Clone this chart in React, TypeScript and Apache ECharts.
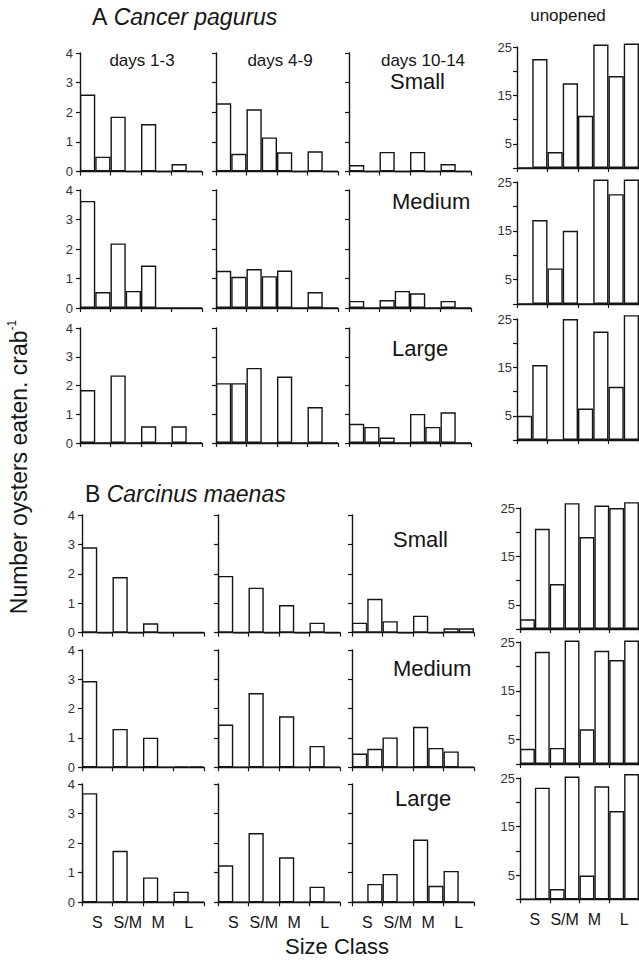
import React, { useEffect, useRef } from "react";
import * as echarts from "echarts";

// ---------- labels ----------
const sizeClasses = ["S", "S/M", "M", "L"];
const periodLabels = ["days 1-3", "days 4-9", "days 10-14", "unopened"];
const crabSizeLabels = ["Small", "Medium", "Large"];
const unopenedTickLabels = [5, 15, 25];

// ---------- data: each entry = [left bar, right bar] for S, S/M, M, L ----------
// A  Cancer pagurus
const cancerSmallDays1to3 = [[2.6, 0.5], [1.85, 0], [1.6, 0], [0.25, 0]];
const cancerSmallDays4to9 = [[2.3, 0.6], [2.1, 1.15], [0.65, 0], [0.68, 0]];
const cancerSmallDays10to14 = [[0.22, 0], [0.66, 0], [0.66, 0], [0.25, 0]];
const cancerSmallUnopened = [[0, 22.5], [3.3, 17.5], [10.8, 25.5], [19, 25.7]];

const cancerMediumDays1to3 = [[3.63, 0.54], [2.19, 0.58], [1.44, 0], [0, 0]];
const cancerMediumDays4to9 = [[1.26, 1.06], [1.32, 1.08], [1.27, 0], [0.54, 0]];
const cancerMediumDays10to14 = [[0.24, 0], [0.27, 0.58], [0.5, 0], [0.24, 0]];
const cancerMediumUnopened = [[0, 17.2], [7.3, 15], [0, 25.5], [22.5, 25.5]];

const cancerLargeDays1to3 = [[1.84, 0], [2.35, 0], [0.58, 0], [0.58, 0]];
const cancerLargeDays4to9 = [[2.08, 2.08], [2.61, 0], [2.31, 0], [1.25, 0]];
const cancerLargeDays10to14 = [[0.67, 0.56], [0.19, 0], [1.01, 0.56], [1.07, 0]];
const cancerLargeUnopened = [[5, 15.5], [0, 25], [6.5, 22.4], [11, 25.8]];

// B  Carcinus maenas
const carcinusSmallDays1to3 = [[2.9, 0], [1.89, 0], [0.32, 0], [0, 0]];
const carcinusSmallDays4to9 = [[1.93, 0], [1.53, 0], [0.94, 0], [0.34, 0]];
const carcinusSmallDays10to14 = [[0.34, 1.15], [0.39, 0], [0.58, 0], [0.15, 0.15]];
const carcinusSmallUnopened = [[2, 20.7], [9.3, 26], [19, 25.5], [25, 26.2]];

const carcinusMediumDays1to3 = [[2.94, 0], [1.31, 0], [1.01, 0], [0.03, 0.03]];
const carcinusMediumDays4to9 = [[1.46, 0], [2.53, 0], [1.74, 0], [0.73, 0]];
const carcinusMediumDays10to14 = [[0.47, 0.63], [1.02, 0], [1.38, 0.66], [0.54, 0]];
const carcinusMediumUnopened = [[3.1, 23], [3.3, 25.3], [7.1, 23.2], [21.3, 25.3]];

const carcinusLargeDays1to3 = [[3.69, 0], [1.74, 0], [0.84, 0], [0.36, 0]];
const carcinusLargeDays4to9 = [[1.25, 0], [2.34, 0], [1.52, 0], [0.53, 0]];
const carcinusLargeDays10to14 = [[0, 0.62], [0.96, 0], [2.12, 0.56], [1.06, 0]];
const carcinusLargeUnopened = [[0, 23], [2.1, 25.3], [4.9, 23.3], [18.2, 25.8]];

const panelRows = [
  [cancerSmallDays1to3, cancerSmallDays4to9, cancerSmallDays10to14, cancerSmallUnopened],
  [cancerMediumDays1to3, cancerMediumDays4to9, cancerMediumDays10to14, cancerMediumUnopened],
  [cancerLargeDays1to3, cancerLargeDays4to9, cancerLargeDays10to14, cancerLargeUnopened],
  [carcinusSmallDays1to3, carcinusSmallDays4to9, carcinusSmallDays10to14, carcinusSmallUnopened],
  [carcinusMediumDays1to3, carcinusMediumDays4to9, carcinusMediumDays10to14, carcinusMediumUnopened],
  [carcinusLargeDays1to3, carcinusLargeDays4to9, carcinusLargeDays10to14, carcinusLargeUnopened],
];

// ---------- layout ----------
const colLeftA = [80, 216, 349, 517];
const colLeftB = [82, 218, 352, 520];
const panelWidth = 122;
const dayRowTop = [53, 190, 328, 515, 650, 784];
const dayRowZero = [171.5, 308, 443, 632.7, 767.3, 902.3];
const unoRowTop = [47, 182, 319, 508, 642, 778];
const unoRowZero = [168, 304, 440, 629, 764, 899.3];

const FONT = "'Liberation Sans', Arial, Helvetica, sans-serif";
const INK = "#151515";

function buildOption() {
  const grid: any[] = [];
  const xAxis: any[] = [];
  const yAxis: any[] = [];
  const series: any[] = [];

  panelRows.forEach((row, r) => {
    row.forEach((pairs, c) => {
      const idx = grid.length;
      const isUno = c === 3;
      const left = (r < 3 ? colLeftA : colLeftB)[c];
      const top = isUno ? unoRowTop[r] : dayRowTop[r];
      const zero = isUno ? unoRowZero[r] : dayRowZero[r];
      grid.push({ left, top, width: panelWidth, height: zero - top, containLabel: false });
      xAxis.push({
        type: "category",
        gridIndex: idx,
        data: sizeClasses,
        boundaryGap: true,
        axisLine: { show: true, lineStyle: { color: INK, width: 1.4 } },
        axisTick: { show: true, inside: false, length: 4, alignWithLabel: false, lineStyle: { color: INK, width: 1.2 } },
        axisLabel: {
          show: r === 5,
          color: INK,
          fontSize: 16,
          fontFamily: FONT,
          margin: 12,
          interval: 0,
        },
        splitLine: { show: false },
      });
      yAxis.push({
        type: "value",
        gridIndex: idx,
        min: 0,
        max: isUno ? 25 : 4,
        interval: isUno ? 5 : 1,
        axisLine: { show: true, lineStyle: { color: INK, width: 1.4 } },
        axisTick: { show: true, inside: false, length: 4, lineStyle: { color: INK, width: 1.2 } },
        axisLabel: {
          show: c === 0 || isUno,
          color: "#333",
          fontSize: 13,
          fontFamily: FONT,
          margin: isUno ? 5 : 7,
          formatter: (v: number) =>
            isUno ? (unopenedTickLabels.includes(v) ? String(v) : "") : String(v),
        },
        splitLine: { show: false },
      });
      [0, 1].forEach((k) => {
        series.push({
          type: "bar",
          xAxisIndex: idx,
          yAxisIndex: idx,
          data: pairs.map((p) => p[k]),
          barGap: "0%",
          barCategoryGap: "0%",
          clip: false,
          itemStyle: { color: "#ffffff", borderColor: INK, borderWidth: 1.4 },
          emphasis: { disabled: true },
          silent: true,
        });
      });
    });
  });

  const textStyle = (extra: any) => ({ fill: INK, fontFamily: FONT, ...extra });
  const elements: any[] = [
    {
      type: "text", x: 92, y: 17,
      style: textStyle({
        text: "{n|A }{i|Cancer pagurus}",
        textVerticalAlign: "middle",
        rich: { n: { fontSize: 23, fontFamily: FONT, fill: INK }, i: { fontSize: 23, fontStyle: "italic", fontFamily: FONT, fill: INK } },
      }),
    },
    {
      type: "text", x: 85, y: 494,
      style: textStyle({
        text: "{n|B }{i|Carcinus maenas}",
        textVerticalAlign: "middle",
        rich: { n: { fontSize: 23, fontFamily: FONT, fill: INK }, i: { fontSize: 23, fontStyle: "italic", fontFamily: FONT, fill: INK } },
      }),
    },
    { type: "text", x: 142, y: 60, style: textStyle({ text: periodLabels[0], fontSize: 17, textAlign: "center", textVerticalAlign: "middle" }) },
    { type: "text", x: 280, y: 60, style: textStyle({ text: periodLabels[1], fontSize: 17, textAlign: "center", textVerticalAlign: "middle" }) },
    { type: "text", x: 423, y: 60, style: textStyle({ text: periodLabels[2], fontSize: 17, textAlign: "center", textVerticalAlign: "middle" }) },
    { type: "text", x: 568, y: 15, style: textStyle({ text: periodLabels[3], fontSize: 17, textAlign: "center", textVerticalAlign: "middle" }) },
    { type: "text", x: 390, y: 81, style: textStyle({ text: crabSizeLabels[0], fontSize: 22, textAlign: "left", textVerticalAlign: "middle" }) },
    { type: "text", x: 392, y: 201, style: textStyle({ text: crabSizeLabels[1], fontSize: 22, textAlign: "left", textVerticalAlign: "middle" }) },
    { type: "text", x: 392, y: 348, style: textStyle({ text: crabSizeLabels[2], fontSize: 22, textAlign: "left", textVerticalAlign: "middle" }) },
    { type: "text", x: 393, y: 539, style: textStyle({ text: crabSizeLabels[0], fontSize: 22, textAlign: "left", textVerticalAlign: "middle" }) },
    { type: "text", x: 393, y: 668, style: textStyle({ text: crabSizeLabels[1], fontSize: 22, textAlign: "left", textVerticalAlign: "middle" }) },
    { type: "text", x: 395, y: 798, style: textStyle({ text: crabSizeLabels[2], fontSize: 22, textAlign: "left", textVerticalAlign: "middle" }) },
    { type: "text", x: 337, y: 946, style: textStyle({ text: "Size Class", fontSize: 22, textAlign: "center", textVerticalAlign: "middle" }) },
    {
      type: "text", x: 19, y: 467, rotation: Math.PI / 2,
      style: textStyle({
        text: "{t|Number oysters eaten. crab}{s|-1}",
        textAlign: "center",
        textVerticalAlign: "middle",
        rich: {
          t: { fontSize: 23, fontFamily: FONT, fill: INK, lineHeight: 26 },
          s: { fontSize: 12, fontFamily: FONT, fill: INK, verticalAlign: "top", lineHeight: 26 },
        },
      }),
    },
  ];

  return {
    animation: false,
    backgroundColor: "#ffffff",
    grid,
    xAxis,
    yAxis,
    series,
    graphic: { elements },
  };
}

export default function App() {
  const ref = useRef<HTMLDivElement>(null);
  useEffect(() => {
    const chart = echarts.init(ref.current as HTMLDivElement, null, { renderer: "svg" });
    chart.setOption(buildOption() as any);
    return () => chart.dispose();
  }, []);
  return (
    <div
      ref={ref}
      style={{ position: "fixed", left: 0, top: 0, width: 639, height: 960, background: "#fff" }}
    />
  );
}
